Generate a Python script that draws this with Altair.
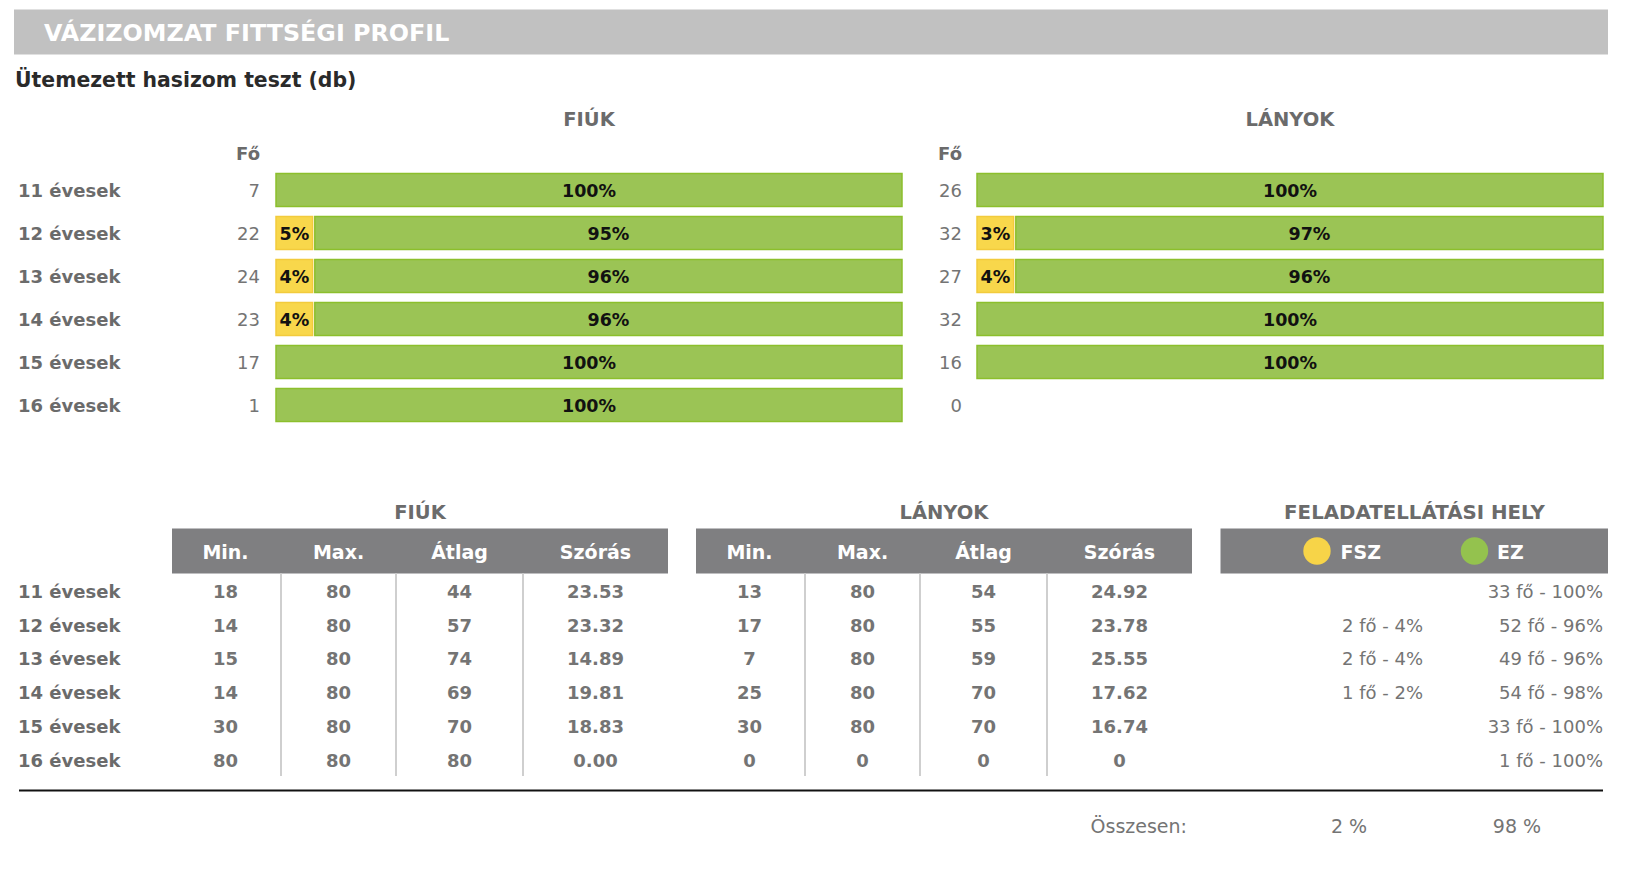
import altair as alt
import pandas as pd

FONT = "DejaVu Sans"

# ---------------- data ----------------
ages = ["11 évesek", "12 évesek", "13 évesek", "14 évesek", "15 évesek", "16 évesek"]

fiuk_fo = [7, 22, 24, 23, 17, 1]
lanyok_fo = [26, 32, 27, 32, 16, 0]
fiuk_fsz = [0, 5, 4, 4, 0, 0]
fiuk_ez = [100, 95, 96, 96, 100, 100]
lanyok_fsz = [0, 3, 4, 0, 0, 0]
lanyok_ez = [100, 97, 96, 100, 100, 0]

stat_cols = ["Min.", "Max.", "Átlag", "Szórás"]
fiuk_min = ["18", "14", "15", "14", "30", "80"]
fiuk_max = ["80", "80", "80", "80", "80", "80"]
fiuk_atlag = ["44", "57", "74", "69", "70", "80"]
fiuk_szoras = ["23.53", "23.32", "14.89", "19.81", "18.83", "0.00"]
lanyok_min = ["13", "17", "7", "25", "30", "0"]
lanyok_max = ["80", "80", "80", "80", "80", "0"]
lanyok_atlag = ["54", "55", "59", "70", "70", "0"]
lanyok_szoras = ["24.92", "23.78", "25.55", "17.62", "16.74", "0"]

hely_fsz = ["", "2 fő - 4%", "2 fő - 4%", "1 fő - 2%", "", ""]
hely_ez = ["33 fő - 100%", "52 fő - 96%", "49 fő - 96%", "54 fő - 98%", "33 fő - 100%", "1 fő - 100%"]
osszesen_fsz = "2 %"
osszesen_ez = "98 %"

# ---------------- styles ----------------
YEL, YEL_S = "#f8d74b", "#f2cb3c"
GRN, GRN_S = "#9bc455", "#8cbf2c"
HDR_GRAY = "#c1c1c1"
TBL_GRAY = "#7f7f81"
LBL = "#6b6b6b"
VAL = "#747474"
DY = 1.5

W, H = 1630, 878
one = pd.DataFrame({"k": [0]})


def deco_text(text, x, y, size=18, weight="bold", color=LBL, align="left"):
    return alt.Chart(one).mark_text(
        text=text, font=FONT, fontSize=size, fontWeight=weight, color=color,
        align=align, baseline="middle", dy=DY
    ).encode(x=alt.value(x), y=alt.value(y))


def deco_rect(x, x2, y, y2, color):
    return alt.Chart(one).mark_rect(color=color).encode(
        x=alt.value(x), x2=alt.value(x2), y=alt.value(y), y2=alt.value(y2))


layers = []

# header
layers.append(deco_rect(0, 1594, 9.5, 54.5, HDR_GRAY))
layers.append(deco_text("VÁZIZOMZAT FITTSÉGI PROFIL", 30, 32, size=23.8, weight="bold", color="white"))
layers.append(deco_text("Ütemezett hasizom teszt (db)", 1, 79, size=20.4, weight="bold", color="#2a2a2a"))

# ---------------- bar section ----------------
bars_df = pd.DataFrame({
    "gender": ["F"] * 6 + ["L"] * 6,
    "age": ages * 2,
    "fo": fiuk_fo + lanyok_fo,
    "fsz": fiuk_fsz + lanyok_fsz,
    "ez": fiuk_ez + lanyok_ez,
})


def bar_y():
    return alt.Y("age:N", scale=alt.Scale(domain=ages, range=[168.5, 426.5],
                                          paddingInner=0.2326, paddingOuter=0.1163), axis=None)


def bar_layers(g, xr, count_right, title_x, show_ages):
    out = []

    def X(f):
        return alt.X(f, type="quantitative",
                     scale=alt.Scale(domain=[0, 100], range=xr, nice=False, zero=False), axis=None)

    base = (alt.Chart(bars_df)
            .transform_filter(f"datum.gender == '{g}'")
            .transform_calculate(ys="datum.fsz > 0 ? max(datum.fsz, 5.85) : 0")
            .transform_calculate(gs="datum.fsz > 0 ? datum.ys + 0.35 : 0")
            .transform_calculate(x0="0", x1="100")
            .transform_calculate(ymid="datum.ys / 2", gmid="(datum.gs + 100) / 2")
            .transform_calculate(fl="datum.fsz + '%'", el="datum.ez + '%'"))

    out.append(base.transform_filter("datum.fsz > 0").mark_bar(
        fill=YEL, stroke=YEL_S, strokeWidth=1.5).encode(x=X("x0"), x2="ys:Q", y=bar_y()))
    out.append(base.transform_filter("datum.ez > 0").mark_bar(
        fill=GRN, stroke=GRN_S, strokeWidth=1.5).encode(x=X("gs"), x2="x1:Q", y=bar_y()))
    out.append(base.transform_filter("datum.fsz > 0").mark_text(
        font=FONT, fontSize=17.5, fontWeight="bold", color="#111", baseline="middle", dy=DY + 0.5
    ).encode(x=X("ymid"), y=bar_y(), text="fl:N"))
    out.append(base.transform_filter("datum.ez > 0").mark_text(
        font=FONT, fontSize=17.5, fontWeight="bold", color="#111", baseline="middle", dy=DY + 0.5
    ).encode(x=X("gmid"), y=bar_y(), text="el:N"))
    out.append(base.mark_text(
        font=FONT, fontSize=18, fontWeight="normal", color=VAL, align="right", baseline="middle", dy=DY + 0.5
    ).encode(x=alt.value(count_right), y=bar_y(), text="fo:N"))
    if show_ages:
        out.append(base.mark_text(
            font=FONT, fontSize=18, fontWeight="bold", color=LBL, align="left", baseline="middle", dy=DY + 0.5
        ).encode(x=alt.value(4), y=bar_y(), text="age:N"))
    out.append(deco_text("Fő", count_right, 153, size=18, weight="bold", color=LBL, align="right"))
    out.append(deco_text("FIÚK" if g == "F" else "LÁNYOK", title_x, 118.5, size=19.5, weight="bold",
                         color=LBL, align="center"))
    return out


layers += bar_layers("F", [262, 888], 246, 575, True)
layers += bar_layers("L", [963, 1589], 948, 1276, False)

# ---------------- tables ----------------
stat_rows = []
for g, cols in (("F", [fiuk_min, fiuk_max, fiuk_atlag, fiuk_szoras]),
                ("L", [lanyok_min, lanyok_max, lanyok_atlag, lanyok_szoras])):
    for ci, c in enumerate(stat_cols):
        for ai, a in enumerate(ages):
            stat_rows.append({"gender": g, "age": a, "col": c, "val": cols[ci][ai]})
stats_df = pd.DataFrame(stat_rows)
hdr_df = pd.DataFrame({"col": stat_cols})
sep_df = pd.DataFrame({"b": [0.5, 1.5, 2.5]})

TY0, TY1 = 573.5, 776


def tbl_y():
    return alt.Y("age:N", scale=alt.Scale(domain=ages, range=[TY0, TY1], paddingInner=0, paddingOuter=0),
                 axis=None)


col_expr = "indexof(['Min.', 'Max.', 'Átlag', 'Szórás'], datum.col)"
col_domain = [-0.5, 0, 0.5, 1, 1.5, 2, 2.5, 3, 3.5]
col_range_f = [158, 211.5, 267, 324.5, 382, 445.5, 509, 581.5, 654]


def table_layers(g, off, title):
    rng = [v + off for v in col_range_f]

    def X(f):
        return alt.X(f, type="quantitative",
                     scale=alt.Scale(domain=col_domain, range=rng, nice=False, zero=False), axis=None)

    out = [deco_rect(rng[0], rng[-1], 528.5, TY0, TBL_GRAY)]
    out.append(deco_text(title, (rng[0] + rng[-1]) / 2, 511.5, size=19.5, weight="bold", color=LBL,
                         align="center"))
    out.append(alt.Chart(hdr_df).transform_calculate(idx=col_expr).mark_text(
        font=FONT, fontSize=19, fontWeight="bold", color="white", baseline="middle", dy=DY
    ).encode(x=X("idx"), y=alt.value(551), text="col:N"))
    out.append(alt.Chart(sep_df).mark_rule(color="#cfcfcf", strokeWidth=2).encode(
        x=X("b"), y=alt.value(TY0), y2=alt.value(TY1)))
    out.append(alt.Chart(stats_df).transform_filter(f"datum.gender == '{g}'")
               .transform_calculate(idx=col_expr).mark_text(
        font=FONT, fontSize=18, fontWeight="bold", color=VAL, baseline="middle", dy=DY + 1
    ).encode(x=X("idx"), y=tbl_y(), text="val:N"))
    return out


layers += table_layers("F", 0, "FIÚK")
layers += table_layers("L", 524, "LÁNYOK")

# row labels of tables
rowlab_df = pd.DataFrame({"age": ages})
layers.append(alt.Chart(rowlab_df).mark_text(
    font=FONT, fontSize=18, fontWeight="bold", color=LBL, align="left", baseline="middle", dy=DY + 1
).encode(x=alt.value(4), y=tbl_y(), text="age:N"))

# feladatellátási hely
layers.append(deco_rect(1206.5, 1594, 528.5, TY0, TBL_GRAY))
layers.append(deco_text("FELADATELLÁTÁSI HELY", 1400.5, 511.5, size=19.8, weight="bold", color=LBL,
                        align="center"))
layers.append(alt.Chart(one).mark_circle(color="#f7d448", opacity=1, size=750).encode(
    x=alt.value(1303), y=alt.value(551)))
layers.append(alt.Chart(one).mark_circle(color="#94c24e", opacity=1, size=750).encode(
    x=alt.value(1460.5), y=alt.value(551)))
layers.append(deco_text("FSZ", 1326.5, 551, size=19, weight="bold", color="white"))
layers.append(deco_text("EZ", 1483, 551, size=19, weight="bold", color="white"))

hely_df = pd.DataFrame({"age": ages, "fsz": hely_fsz, "ez": hely_ez})
layers.append(alt.Chart(hely_df).mark_text(
    font=FONT, fontSize=18, fontWeight="normal", color=VAL, align="right", baseline="middle", dy=DY + 1
).encode(x=alt.value(1409), y=tbl_y(), text="fsz:N"))
layers.append(alt.Chart(hely_df).mark_text(
    font=FONT, fontSize=18, fontWeight="normal", color=VAL, align="right", baseline="middle", dy=DY + 1
).encode(x=alt.value(1589), y=tbl_y(), text="ez:N"))

# bottom line & totals
layers.append(alt.Chart(one).mark_rule(color="#111", strokeWidth=2).encode(
    x=alt.value(5), x2=alt.value(1589), y=alt.value(790.5)))
layers.append(deco_text("Összesen:", 1173, 825, size=19, weight="normal", color=VAL, align="right"))
layers.append(deco_text(osszesen_fsz, 1335, 825, size=19, weight="normal", color=VAL, align="center"))
layers.append(deco_text(osszesen_ez, 1503, 825, size=19, weight="normal", color=VAL, align="center"))

chart = (alt.layer(*layers)
         .resolve_scale(x="independent", y="independent")
         .properties(width=W - 14, height=H, padding={"left": 14, "top": 0, "right": 0, "bottom": 0},
                     background="white")
         .configure_view(stroke=None))

chart.save("out.html", embed_options={"renderer": "svg", "actions": False})
